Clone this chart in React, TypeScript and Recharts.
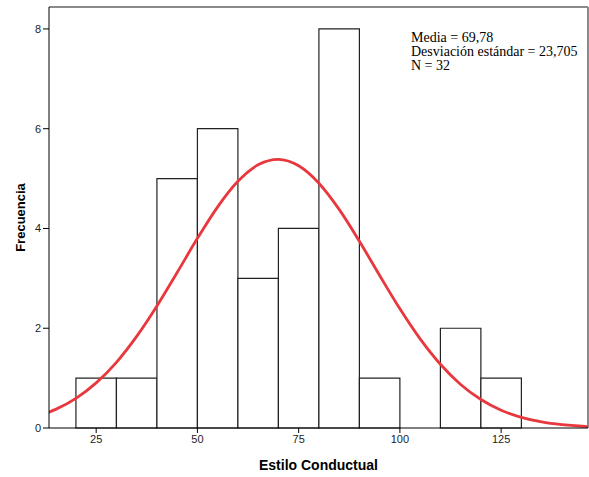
import React from "react";
import {
  ComposedChart,
  Line,
  XAxis,
  YAxis,
  ReferenceArea,
  ReferenceLine,
} from "recharts";

// histogram bins (Estilo Conductual), width 10
const binStart = [20, 30, 40, 50, 60, 70, 80, 90, 100, 110, 120];
const binCount = [1, 1, 5, 6, 3, 4, 8, 1, 0, 2, 1];

// fitted normal curve
const curveX = [13, 15, 20, 25, 30, 35, 40, 45, 50, 55, 60, 65, 70, 75, 80, 85, 90, 95, 100, 105, 110, 115, 120, 125, 130, 135, 140, 145, 147];
const curveY = [0.306, 0.373, 0.594, 0.904, 1.317, 1.836, 2.446, 3.118, 3.802, 4.434, 4.946, 5.277, 5.385, 5.256, 4.907, 4.382, 3.743, 3.058, 2.389, 1.786, 1.277, 0.873, 0.571, 0.357, 0.214, 0.122, 0.067, 0.035, 0.027];

const xTicks = [25, 50, 75, 100, 125];
const yTicks = [0, 2, 4, 6, 8];

const stats = ["Media = 69,78", "Desviación estándar = 23,705", "N = 32"];

const X_MIN = 13.35;
const X_MAX = 146.45;
const Y_MAX = 8.44;

const curveData = curveX.map((x, i) => ({ x, y: curveY[i] }));
const bins = binStart.map((lo, i) => ({ lo, hi: lo + 10, n: binCount[i] }));

const tickStyle = { fill: "#222", fontSize: 11, fontFamily: "Liberation Sans, Arial, sans-serif" };

export default function App() {
  return (
    <div style={{ position: "absolute", left: 0, top: 0, width: 589, height: 477, background: "#fff" }}>
      <ComposedChart
        width={589}
        height={477}
        data={curveData}
        margin={{ top: 7, right: 1, left: 0, bottom: 0 }}
      >
        <XAxis
          dataKey="x"
          type="number"
          domain={[X_MIN, X_MAX]}
          allowDataOverflow
          ticks={xTicks}
          tickSize={5}
          tick={tickStyle}
          stroke="#000"
          height={49}
          label={{
            value: "Estilo Conductual",
            position: "insideBottom",
            offset: 7,
            style: { fontSize: 14, fontWeight: "bold", fill: "#000", fontFamily: "Liberation Sans, Arial, sans-serif" },
          }}
        />
        <YAxis
          type="number"
          domain={[0, Y_MAX]}
          allowDataOverflow
          ticks={yTicks}
          tickSize={6}
          tick={tickStyle}
          stroke="#000"
          width={49}
          label={{
            value: "Frecuencia",
            angle: -90,
            position: "insideLeft",
            offset: 20,
            style: { fontSize: 13, fontWeight: "bold", fill: "#000", fontFamily: "Liberation Sans, Arial, sans-serif", textAnchor: "middle" },
          }}
        />
        {bins
          .filter((b) => b.n > 0)
          .map((b) => (
            <ReferenceArea
              key={b.lo}
              x1={b.lo}
              x2={b.hi}
              y1={0}
              y2={b.n}
              fill="#fff"
              fillOpacity={1}
              stroke="#222"
              strokeWidth={1.2}
              strokeOpacity={1}
            />
          ))}
        <ReferenceLine y={Y_MAX} stroke="#8a8a8a" strokeWidth={2} ifOverflow="visible" />
        <ReferenceLine x={X_MAX} stroke="#8a8a8a" strokeWidth={2} ifOverflow="visible" />
        <Line
          type="monotone"
          dataKey="y"
          stroke="#e8383d"
          strokeWidth={2.8}
          dot={false}
          isAnimationActive={false}
        />
      </ComposedChart>
      <div
        style={{
          position: "absolute",
          left: 411,
          top: 31,
          fontFamily: "Liberation Serif, Times New Roman, serif",
          fontSize: 14,
          lineHeight: "14px",
          color: "#000",
          whiteSpace: "nowrap",
        }}
      >
        {stats.map((s) => (
          <div key={s}>{s}</div>
        ))}
      </div>
    </div>
  );
}
